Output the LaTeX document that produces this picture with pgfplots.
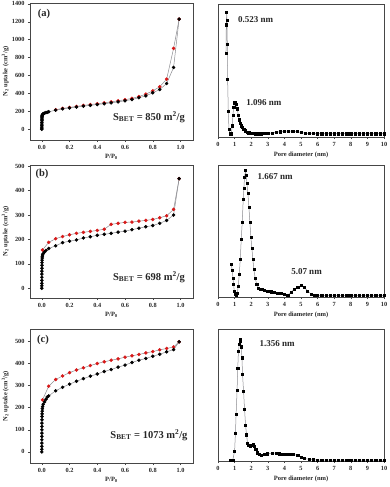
\documentclass[border=0pt]{standalone}
\usepackage{fontspec}
\setmainfont{Liberation Serif}
\usepackage{pgfplots}
\pgfplotsset{compat=1.18}

\definecolor{linegray}{RGB}{140,140,145}
\definecolor{framecol}{RGB}{70,70,70}
\definecolor{desred}{RGB}{215,25,25}

\tikzset{
  plab/.style={font=\fontsize{10.5}{11}\selectfont\bfseries, text=black!85},
  slab/.style={font=\fontsize{10.5}{11}\selectfont\bfseries, text=black!85},
  nlab/.style={font=\fontsize{9}{10}\selectfont\bfseries, text=black!85, anchor=west},
}

\pgfplotsset{
  base/.style={
    scale only axis,
    axis line style={framecol, line width=0.8pt},
    tick style={framecol, line width=0.5pt},
    tick align=outside,
    major tick length=2pt,
    xtick pos=bottom, ytick pos=left,
    /pgf/number format/assume math mode=true,
    /pgf/number format/1000 sep={},
    tick label style={font=\fontsize{6.3}{6.3}\selectfont\bfseries, text=black!85},
    label style={font=\fontsize{6.5}{7}\selectfont\bfseries, text=black!85},
  },
  iso/.style={base, width=163pt,
    xmin=-0.085, xmax=1.09, xtick={0,0.2,0.4,0.6,0.8,1.0},
    xticklabel style={/pgf/number format/.cd, fixed, fixed zerofill, precision=1},
    xlabel={P/P\textsubscript{0}},
    ylabel={N\textsubscript{2} uptake (cm\textsuperscript{3}/g)},
    xlabel style={at={(axis description cs:0.5,-0.125)}, anchor=center},
    ylabel style={at={(axis description cs:-0.152,0.5)}, anchor=center},
  },
  psd/.style={base, width=166pt,
    xmin=0, xmax=10, xtick={0,1,...,10}, ytick=\empty,
    xlabel={Pore diameter (nm)},
    xlabel style={at={(axis description cs:0.5,-0.138)}, anchor=center},
  },
  ads/.style={linegray, line width=0.5pt, mark=*, mark size=1.5pt, mark options={fill=black, draw=black}},
  des/.style={linegray, line width=0.5pt, mark=*, mark size=1.5pt, mark options={fill=desred, draw=desred}},
  sq/.style={linegray, line width=0.5pt, mark=square*, mark size=1.1pt, mark options={fill=black, draw=black}},
}

\begin{document}
\begin{tikzpicture}
\path[use as bounding box] (0,0) rectangle (390pt,-487pt);

% (a)
\begin{axis}[iso, at={(30pt,-3pt)}, anchor=north west, height=137pt,
  ymin=-120, ymax=1410, ytick={0,200,...,1400}]
\addplot[des] coordinates {
(0.99,1230) (0.95,903) (0.90,560) (0.85,474) (0.80,429) (0.75,392) (0.70,365)
(0.65,345) (0.60,330) (0.55,318) (0.50,306) (0.45,295) (0.40,285) (0.35,276)
(0.30,266) (0.25,255) (0.20,244) (0.15,233) (0.10,218)};
\addplot[ads] coordinates {
(0.0002,0) (0.0003,12) (0.0004,25) (0.0005,40) (0.0006,58) (0.0007,76)
(0.0008,95) (0.0010,112) (0.0012,126) (0.0015,138) (0.002,147) (0.003,154)
(0.004,160) (0.006,165) (0.008,170) (0.012,175) (0.02,180) (0.03,186)
(0.04,190) (0.05,195) (0.10,213) (0.15,228) (0.20,238) (0.25,248) (0.30,258)
(0.35,267) (0.40,276) (0.45,285) (0.50,295) (0.55,306) (0.60,318) (0.65,332)
(0.70,352) (0.75,373) (0.80,407) (0.85,444) (0.90,511) (0.95,690) (0.99,1230)};
\node[plab] at (axis description cs:0.086,0.92) {(a)};
\node[slab] at (axis description cs:0.73,0.168) {S\textsubscript{BET} = 850 m\textsuperscript{2}/g};
\end{axis}

% (d)
\begin{axis}[psd, at={(218pt,-4pt)}, anchor=north west, height=133pt,
  ymin=-0.022, ymax=1.071]
\addplot[sq] coordinates {
(0.48,0.665) (0.50,0.90) (0.52,1.00) (0.54,0.94) (0.56,0.74) (0.58,0.45)
(0.62,0.19) (0.66,0.04) (0.72,0.005) (0.80,0.005) (0.86,0.07) (0.90,0.16)
(0.95,0.225) (1.00,0.26) (1.05,0.265) (1.10,0.25) (1.16,0.21) (1.22,0.16)
(1.28,0.12) (1.34,0.09) (1.40,0.07) (1.47,0.055) (1.55,0.04) (1.65,0.03)
(1.75,0.02) (1.85,0.013) (1.95,0.009) (2.1,0.006) (2.25,0.005) (2.4,0.005)
(2.6,0.005) (2.8,0.006) (3.0,0.008) (3.25,0.012) (3.5,0.017) (3.75,0.021)
(4.0,0.025) (4.25,0.027) (4.5,0.026) (4.75,0.022) (5.0,0.015) (5.25,0.010)
(5.5,0.007) (5.75,0.006) (6.0,0.005) (6.25,0.005) (6.5,0.005) (6.75,0.005)
(7.0,0.005) (7.25,0.005) (7.5,0.005) (7.75,0.005) (8.0,0.005) (8.25,0.005)
(8.5,0.005) (8.75,0.005) (9.0,0.005) (9.25,0.005) (9.5,0.005) (9.75,0.005)
(10.0,0.005)};
\node[plab] at (axis description cs:-0.066,0.925) {(d)};
\node[nlab] at (axis description cs:0.10,0.88) {0.523 nm};
\node[nlab] at (axis description cs:0.15,0.256) {1.096 nm};
\end{axis}

% (b)
\begin{axis}[iso, at={(30pt,-165pt)}, anchor=north west, height=133pt,
  ymin=-40, ymax=505, ytick={0,100,...,500}]
\addplot[des] coordinates {
(0.99,449) (0.95,323) (0.90,297) (0.85,289) (0.80,282) (0.75,278) (0.70,275)
(0.65,271) (0.60,270) (0.55,266) (0.50,262) (0.45,242) (0.40,237) (0.35,233)
(0.30,229) (0.25,225) (0.20,219) (0.15,212) (0.10,203) (0.05,188) (0.005,157)};
\addplot[ads] coordinates {
(0.0002,0) (0.0003,10) (0.0004,20) (0.0005,32) (0.0006,45) (0.0007,58)
(0.0008,70) (0.0010,82) (0.0012,94) (0.0015,105) (0.002,115) (0.003,124)
(0.004,131) (0.006,137) (0.01,142) (0.02,149) (0.03,155) (0.05,163)
(0.10,174) (0.15,187) (0.20,193) (0.25,198) (0.30,206) (0.35,211) (0.40,217)
(0.45,221) (0.50,225) (0.55,230) (0.60,234) (0.65,240) (0.70,246) (0.75,252)
(0.80,257) (0.85,266) (0.90,278) (0.95,300) (0.99,449)};
\node[plab] at (axis description cs:0.074,0.93) {(b)};
\node[slab] at (axis description cs:0.73,0.158) {S\textsubscript{BET} = 698 m\textsuperscript{2}/g};
\end{axis}

% (e)
\begin{axis}[psd, at={(218pt,-165pt)}, anchor=north west, height=132pt,
  ymin=-0.011, ymax=1.045]
\addplot[sq] coordinates {
(0.80,0.25) (0.86,0.20) (0.90,0.14) (0.94,0.09) (0.98,0.035) (1.04,0.008)
(1.10,0.0) (1.16,0.02) (1.22,0.075) (1.28,0.17) (1.34,0.29) (1.40,0.45)
(1.46,0.59) (1.52,0.77) (1.56,0.86) (1.60,0.95) (1.66,1.0) (1.70,0.965)
(1.74,0.90) (1.80,0.82) (1.86,0.71) (1.92,0.59) (1.98,0.47) (2.04,0.38)
(2.10,0.29) (2.16,0.21) (2.24,0.14) (2.34,0.088) (2.44,0.061) (2.54,0.053)
(2.64,0.048) (2.8,0.043) (3.0,0.036) (3.2,0.031) (3.4,0.026) (3.6,0.021)
(3.8,0.016) (4.0,0.009) (4.2,0.004) (4.4,0.03) (4.6,0.05) (4.8,0.068)
(5.0,0.08) (5.2,0.065) (5.4,0.038) (5.6,0.013) (5.8,0.002) (6.0,0.0)
(6.25,0.0) (6.5,0.0) (6.75,0.0) (7.0,0.0) (7.25,0.0) (7.5,0.0) (7.75,0.0)
(8.0,0.0) (8.25,0.0) (8.5,0.0) (8.75,0.0) (9.0,0.0) (9.25,0.0) (9.5,0.0)
(9.75,0.0) (10.0,0.0)};
\node[plab] at (axis description cs:-0.066,0.924) {(e)};
\node[nlab] at (axis description cs:0.217,0.909) {1.667 nm};
\node[nlab] at (axis description cs:0.42,0.19) {5.07 nm};
\end{axis}

% (c)
\begin{axis}[iso, at={(30pt,-329pt)}, anchor=north west, height=134pt,
  ymin=-50, ymax=555, ytick={0,100,...,500}]
\addplot[des] coordinates {
(0.99,497) (0.95,474) (0.90,467) (0.85,461) (0.80,453) (0.75,447) (0.70,440)
(0.65,434) (0.60,428) (0.55,420) (0.50,414) (0.45,407) (0.40,399) (0.35,390)
(0.30,380) (0.25,370) (0.20,358) (0.15,343) (0.10,327) (0.05,297) (0.005,235)};
\addplot[ads] coordinates {
(0.0002,0) (0.0003,12) (0.0004,25) (0.0005,40) (0.0006,55) (0.0007,70)
(0.0008,85) (0.0009,100) (0.0010,115) (0.0012,130) (0.0014,145) (0.0017,160)
(0.002,172) (0.003,184) (0.004,195) (0.006,205) (0.01,215) (0.02,226)
(0.03,238) (0.04,248) (0.05,253) (0.10,276) (0.15,292) (0.20,306) (0.25,319)
(0.30,331) (0.35,342) (0.40,352) (0.45,363) (0.50,372) (0.55,383) (0.60,392)
(0.65,404) (0.70,414) (0.75,422) (0.80,432) (0.85,441) (0.90,452) (0.95,462)
(0.99,497)};
\node[plab] at (axis description cs:0.08,0.918) {(c)};
\node[slab] at (axis description cs:0.73,0.209) {S\textsubscript{BET} = 1073 m\textsuperscript{2}/g};
\end{axis}

% (f)
\begin{axis}[psd, at={(218pt,-329pt)}, anchor=north west, height=132pt,
  ymin=-0.008, ymax=1.088]
\addplot[sq] coordinates {
(0.75,0.0) (0.89,0.0) (1.00,0.074) (1.05,0.22) (1.09,0.38) (1.15,0.58)
(1.19,0.76) (1.23,0.90) (1.28,0.96) (1.32,1.0) (1.36,0.99) (1.40,0.94)
(1.44,0.85) (1.48,0.71) (1.54,0.57) (1.60,0.42) (1.66,0.29) (1.72,0.21)
(1.78,0.14) (1.84,0.124) (1.92,0.116) (2.0,0.124) (2.1,0.13) (2.19,0.116)
(2.27,0.088) (2.37,0.06) (2.47,0.047) (2.61,0.039) (2.77,0.047) (2.98,0.052)
(3.28,0.058) (3.5,0.056) (3.7,0.053) (3.9,0.051) (4.1,0.05) (4.3,0.049)
(4.5,0.047) (4.8,0.039) (5.0,0.025) (5.2,0.014) (5.5,0.005) (5.75,0.002)
(6.0,0.0) (6.25,0.0) (6.5,0.0) (6.75,0.0) (7.0,0.0) (7.25,0.0) (7.5,0.0)
(7.75,0.0) (8.0,0.0) (8.25,0.0) (8.5,0.0) (8.75,0.0) (9.0,0.0) (9.25,0.0)
(9.5,0.0) (9.75,0.0) (10.0,0.0)};
\node[plab] at (axis description cs:-0.075,0.917) {(f)};
\node[nlab] at (axis description cs:0.229,0.886) {1.356 nm};
\end{axis}
\end{tikzpicture}
\end{document}
